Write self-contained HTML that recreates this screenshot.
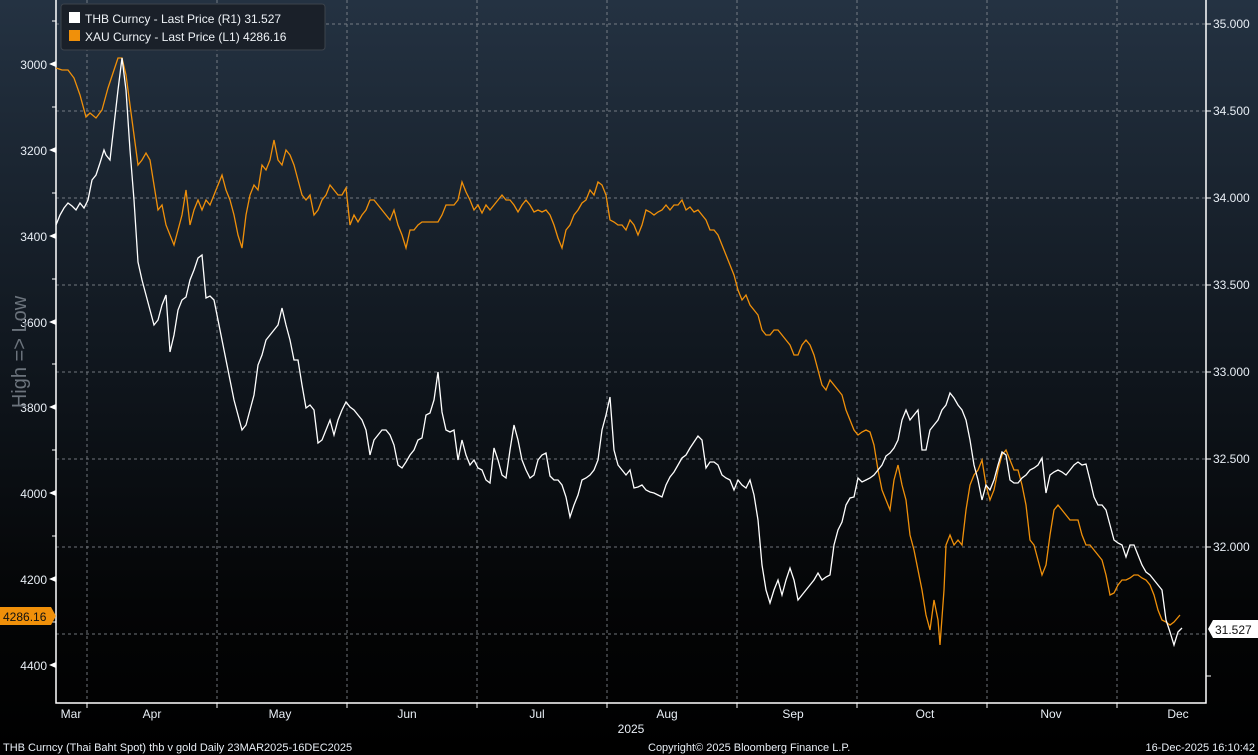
<!DOCTYPE html>
<html><head><meta charset="utf-8"><style>
body{margin:0;background:#000;}
svg{display:block;font-family:"Liberation Sans",sans-serif;}
</style></head><body>
<svg width="1258" height="755" viewBox="0 0 1258 755" xmlns="http://www.w3.org/2000/svg">
<defs>
<linearGradient id="bg" x1="0" y1="0" x2="0" y2="1">
<stop offset="0" stop-color="#243242"/>
<stop offset="0.45" stop-color="#111820"/>
<stop offset="0.8" stop-color="#040506"/>
<stop offset="1" stop-color="#000"/>
</linearGradient>
</defs>
<rect width="1258" height="755" fill="url(#bg)"/>
<g stroke="#8a8f96" stroke-width="1" stroke-dasharray="3,3" fill="none" opacity="0.8">
<line x1="87" y1="0" x2="87" y2="703"/><line x1="217" y1="0" x2="217" y2="703"/><line x1="347" y1="0" x2="347" y2="703"/><line x1="477" y1="0" x2="477" y2="703"/><line x1="607" y1="0" x2="607" y2="703"/><line x1="737" y1="0" x2="737" y2="703"/><line x1="857" y1="0" x2="857" y2="703"/><line x1="987" y1="0" x2="987" y2="703"/><line x1="1117" y1="0" x2="1117" y2="703"/>
<line x1="56" y1="24" x2="1206" y2="24"/><line x1="56" y1="111" x2="1206" y2="111"/><line x1="56" y1="198" x2="1206" y2="198"/><line x1="56" y1="285" x2="1206" y2="285"/><line x1="56" y1="372" x2="1206" y2="372"/><line x1="56" y1="459" x2="1206" y2="459"/><line x1="56" y1="547" x2="1206" y2="547"/><line x1="56" y1="634" x2="1206" y2="634"/>
</g>
<g stroke="#fff" stroke-width="1.5" fill="none">
<polyline points="56,0 56,703 1206,703 1206,0"/>
</g>
<g stroke="#fff" stroke-width="1">
<line x1="87" y1="703" x2="87" y2="708"/><line x1="217" y1="703" x2="217" y2="708"/><line x1="347" y1="703" x2="347" y2="708"/><line x1="477" y1="703" x2="477" y2="708"/><line x1="607" y1="703" x2="607" y2="708"/><line x1="737" y1="703" x2="737" y2="708"/><line x1="857" y1="703" x2="857" y2="708"/><line x1="987" y1="703" x2="987" y2="708"/><line x1="1117" y1="703" x2="1117" y2="708"/>
<line x1="52" y1="21" x2="56" y2="21"/><line x1="52" y1="107" x2="56" y2="107"/><line x1="52" y1="193" x2="56" y2="193"/><line x1="52" y1="279" x2="56" y2="279"/><line x1="52" y1="364" x2="56" y2="364"/><line x1="52" y1="450" x2="56" y2="450"/><line x1="52" y1="536" x2="56" y2="536"/><line x1="52" y1="622" x2="56" y2="622"/>
<line x1="1206" y1="24" x2="1211" y2="24"/><line x1="1206" y1="111" x2="1211" y2="111"/><line x1="1206" y1="198" x2="1211" y2="198"/><line x1="1206" y1="285" x2="1211" y2="285"/><line x1="1206" y1="372" x2="1211" y2="372"/><line x1="1206" y1="459" x2="1211" y2="459"/><line x1="1206" y1="547" x2="1211" y2="547"/><line x1="1206" y1="676" x2="1211" y2="676"/>
</g>
<g fill="#fff"><polygon points="49,64 56,61 56,67"/><polygon points="49,150 56,147 56,153"/><polygon points="49,236 56,233 56,239"/><polygon points="49,322 56,319 56,325"/><polygon points="49,407 56,404 56,410"/><polygon points="49,493 56,490 56,496"/><polygon points="49,579 56,576 56,582"/><polygon points="49,665 56,662 56,668"/></g>
<g fill="#e8eef5" font-size="12" text-anchor="end">
<text x="47" y="69">3000</text><text x="47" y="155">3200</text><text x="47" y="241">3400</text><text x="47" y="327">3600</text><text x="47" y="412">3800</text><text x="47" y="498">4000</text><text x="47" y="584">4200</text><text x="47" y="670">4400</text>
</g>
<g fill="#e8eef5" font-size="12">
<text x="1213" y="28">35.000</text><text x="1213" y="115">34.500</text><text x="1213" y="202">34.000</text><text x="1213" y="289">33.500</text><text x="1213" y="376">33.000</text><text x="1213" y="463">32.500</text><text x="1213" y="551">32.000</text>
</g>
<g fill="#e8eef5" font-size="12" text-anchor="middle">
<text x="71" y="718">Mar</text><text x="152" y="718">Apr</text><text x="280" y="718">May</text><text x="407" y="718">Jun</text><text x="537" y="718">Jul</text><text x="667" y="718">Aug</text><text x="793" y="718">Sep</text><text x="925" y="718">Oct</text><text x="1051" y="718">Nov</text><text x="1178" y="718">Dec</text>
<text x="631" y="733">2025</text>
</g>
<text x="26" y="352" fill="#6b737c" font-size="20" text-anchor="middle" transform="rotate(-90 26 352)">High =&gt; Low</text>
<polyline fill="none" stroke="#f0900a" stroke-width="1.3" points="56,68 62,70 68,70 74,78 80,95 86,117 90,113 96,118 102,110 108,88 114,70 118,58 122,58 126,75 130,105 134,135 138,165 142,160 146,153 150,160 154,185 158,210 162,205 166,225 170,235 174,245 178,230 182,215 186,190 190,225 194,210 198,200 202,210 206,200 210,205 214,195 218,185 222,175 226,190 230,200 234,215 238,235 242,248 246,215 250,195 254,185 258,190 262,165 266,170 270,160 274,140 278,160 282,165 286,150 290,155 294,165 298,180 302,195 306,200 310,195 314,215 318,210 322,200 326,195 330,185 334,190 338,195 342,195 346,188 350,225 354,215 358,222 362,215 366,210 370,200 374,200 378,205 382,210 386,215 390,220 394,210 398,225 402,235 406,248 410,230 414,230 418,225 422,222 426,222 430,222 434,222 438,222 442,215 446,205 450,205 454,205 458,200 462,182 466,192 470,200 474,210 478,205 482,213 486,205 490,210 494,205 498,200 502,195 506,200 510,200 514,205 518,212 522,205 526,200 530,205 534,212 538,210 542,212 546,210 550,215 554,225 558,238 562,248 566,230 570,225 574,215 578,210 582,203 586,200 590,190 594,195 598,182 602,185 606,195 610,220 614,222 618,225 622,225 626,230 630,220 634,225 638,235 642,225 646,210 650,212 654,215 658,212 662,210 666,205 670,210 674,205 678,205 682,200 686,210 690,207 694,212 698,210 702,215 706,220 710,230 714,230 718,235 722,245 726,255 730,265 734,275 738,290 742,300 746,295 750,305 754,310 758,315 762,330 766,335 770,335 774,330 778,330 782,335 786,340 790,345 794,355 798,355 802,345 806,340 810,345 814,355 818,370 822,385 826,390 830,380 834,385 838,390 842,395 846,410 850,420 854,430 858,435 862,432 866,430 870,432 874,445 878,470 882,490 886,500 890,510 894,480 898,465 902,485 906,500 910,535 914,550 918,570 922,590 926,615 930,630 934,600 938,620 940,645 944,590 946,545 950,535 954,545 958,540 962,545 966,510 970,485 974,475 978,470 982,460 986,485 990,500 994,490 998,470 1002,455 1006,450 1010,460 1014,470 1018,470 1022,485 1026,505 1030,540 1034,545 1038,560 1042,575 1046,565 1050,535 1054,510 1058,505 1062,510 1066,515 1070,520 1074,520 1078,520 1082,535 1086,545 1090,545 1094,550 1098,555 1102,560 1106,575 1110,595 1114,593 1118,585 1122,580 1126,580 1130,578 1134,575 1138,575 1142,578 1146,580 1150,585 1154,595 1158,610 1162,620 1166,622 1170,625 1174,622 1180,615"/>
<polyline fill="none" stroke="#ffffff" stroke-width="1.3" points="56,225 60,215 64,208 68,203 72,206 76,210 80,203 84,208 88,200 92,180 96,175 100,163 104,150 106,155 110,160 114,125 118,90 122,58 126,90 130,150 134,200 138,262 142,280 146,295 150,310 154,325 158,320 162,305 166,295 170,352 174,335 178,310 182,300 186,297 190,280 194,270 198,258 202,255 206,298 210,296 214,300 218,320 222,340 226,360 230,380 234,400 238,415 242,430 246,425 250,410 254,395 258,365 262,355 266,340 270,335 274,330 278,325 282,308 286,325 290,340 294,360 298,360 302,385 306,408 310,405 314,410 318,443 322,440 326,430 330,420 334,435 338,420 342,410 346,402 350,407 354,410 358,415 362,420 366,430 370,455 374,440 378,435 382,430 386,430 390,435 394,445 398,465 402,468 406,462 410,455 414,450 418,440 422,438 426,415 430,413 434,400 438,372 442,412 446,430 450,432 454,430 458,460 462,440 466,455 470,465 474,460 478,468 482,470 486,480 490,483 494,448 498,460 502,475 506,478 510,450 514,425 518,440 522,460 526,470 530,478 534,475 538,460 542,455 546,453 550,476 554,480 558,480 562,485 566,497 570,517 574,505 578,495 582,480 586,478 590,475 594,470 598,460 602,430 606,415 610,397 614,450 618,465 622,470 626,475 630,470 634,488 638,487 642,485 646,490 650,492 654,493 658,495 662,497 666,485 670,477 674,472 678,465 682,458 686,455 690,448 694,442 698,436 702,440 706,468 710,462 714,462 718,465 722,475 726,478 730,480 734,490 738,480 742,485 746,488 750,480 754,495 758,520 762,565 766,590 770,603 774,590 778,580 782,595 786,580 790,568 794,580 798,600 802,595 806,590 810,585 814,580 818,573 822,580 826,577 830,575 834,545 838,530 842,522 846,505 850,498 854,497 858,478 862,482 866,480 870,478 874,475 878,470 882,465 886,456 890,453 894,448 898,440 902,420 906,410 910,420 914,415 918,410 922,450 926,450 930,430 934,425 938,420 942,410 946,405 950,393 954,398 958,405 962,410 966,420 970,440 974,465 978,480 982,500 986,485 990,490 994,480 998,465 1002,452 1006,455 1010,480 1014,483 1018,483 1022,478 1026,475 1030,470 1034,468 1038,465 1042,458 1046,493 1050,475 1054,472 1058,470 1062,472 1066,475 1070,470 1074,465 1078,462 1082,465 1086,464 1090,480 1094,497 1098,505 1102,505 1106,510 1110,525 1114,540 1118,543 1122,545 1126,557 1130,545 1134,545 1138,555 1142,565 1146,572 1150,575 1154,580 1158,585 1162,590 1166,620 1170,632 1174,645 1178,632 1182,628"/>
<rect x="61" y="4" width="264" height="46" rx="3" fill="#1a2029" stroke="#3c434c" stroke-width="1"/>
<rect x="69" y="12" width="11" height="11" fill="#fff"/>
<rect x="69" y="30" width="11" height="11" fill="#f0900a"/>
<g fill="#eef2f6" font-size="12"><text x="85" y="23">THB Curncy - Last Price (R1)  31.527</text><text x="85" y="41">XAU Curncy - Last Price (L1)  4286.16</text></g>
<polygon points="0,607 51,607 56,616 51,625 0,625" fill="#f0900a"/>
<text x="3" y="621" fill="#111" font-size="12">4286.16</text>
<polygon points="1208,629 1213,620 1258,620 1258,638 1213,638" fill="#fff"/>
<text x="1215" y="634" fill="#111" font-size="12">31.527</text>
<g fill="#e8eef5" font-size="11"><text x="3" y="751">THB Curncy (Thai Baht Spot) thb v gold Daily 23MAR2025-16DEC2025</text><text x="648" y="751">Copyright© 2025 Bloomberg Finance L.P.</text><text x="1255" y="751" text-anchor="end">16-Dec-2025 16:10:42</text></g>
</svg>
</body></html>
